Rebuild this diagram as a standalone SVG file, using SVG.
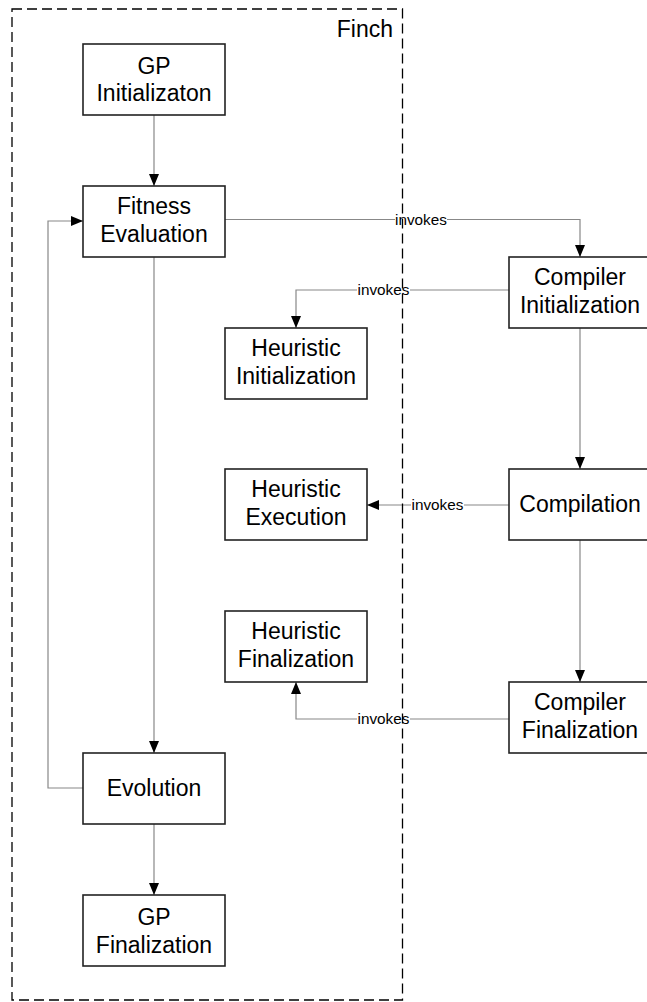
<svg xmlns="http://www.w3.org/2000/svg" width="647" height="1002" viewBox="0 0 647 1002">
<style>
.box{fill:#fff;stroke:#222;stroke-width:1.6}
.t{font-family:"Liberation Sans",Arial,sans-serif;font-size:23px;fill:#000;text-anchor:middle}
.lbl{font-family:"Liberation Sans",Arial,sans-serif;font-size:15.3px;fill:#000;text-anchor:middle}
.c{fill:none;stroke:#888;stroke-width:1.2}
.frame{fill:none;stroke:#000;stroke-width:1.3;stroke-dasharray:10,5}
</style>
<defs>
<marker id="ah" markerUnits="userSpaceOnUse" markerWidth="13" markerHeight="13" viewBox="0 0 13 13" refX="12" refY="6.5" orient="auto">
<path d="M0,1.5 L12,6.5 L0,11.5 Z" fill="#000"/>
</marker>
</defs>
<rect x="0" y="0" width="647" height="1002" fill="#fff"/>
<g id="connectors">
<path class="c" d="M154,115 V186" marker-end="url(#ah)"/>
<path class="c" d="M154,257 V753" marker-end="url(#ah)"/>
<path class="c" d="M154,824 V895" marker-end="url(#ah)"/>
<path class="c" d="M83,788 H48 V221 H83" marker-end="url(#ah)"/>
<path class="c" d="M225,219.5 H580 V257" marker-end="url(#ah)"/>
<path class="c" d="M509,290 H296 V328" marker-end="url(#ah)"/>
<path class="c" d="M580,328 V469" marker-end="url(#ah)"/>
<path class="c" d="M509,505 H367" marker-end="url(#ah)"/>
<path class="c" d="M580,540 V682" marker-end="url(#ah)"/>
<path class="c" d="M509,719 H296 V682" marker-end="url(#ah)"/>
<g id="labels">
<rect x="395" y="211" width="52" height="16" fill="#fff"/>
<text class="lbl" x="421" y="224.5">invokes</text>
<rect x="357" y="282" width="53" height="16" fill="#fff"/>
<text class="lbl" x="383.5" y="295">invokes</text>
<rect x="411" y="497" width="53" height="16" fill="#fff"/>
<text class="lbl" x="437.5" y="510">invokes</text>
<rect x="357" y="711" width="53" height="16" fill="#fff"/>
<text class="lbl" x="383.5" y="724">invokes</text>
</g>
</g>
<g id="gp-init"><rect class="box" x="83" y="44" width="142" height="71"/><text class="t" x="154" y="74">GP</text><text class="t" x="154" y="101">Initializaton</text></g>
<g id="fitness"><rect class="box" x="83" y="186" width="142" height="71"/><text class="t" x="154" y="214">Fitness</text><text class="t" x="154" y="242">Evaluation</text></g>
<g id="evolution"><rect class="box" x="83" y="753" width="142" height="71"/><text class="t" x="154" y="796">Evolution</text></g>
<g id="gp-final"><rect class="box" x="83" y="895" width="142" height="71"/><text class="t" x="154" y="925">GP</text><text class="t" x="154" y="953">Finalization</text></g>
<g id="heur-init"><rect class="box" x="225" y="328" width="142" height="71"/><text class="t" x="296" y="356">Heuristic</text><text class="t" x="296" y="384">Initialization</text></g>
<g id="heur-exec"><rect class="box" x="225" y="469" width="142" height="71"/><text class="t" x="296" y="497">Heuristic</text><text class="t" x="296" y="525">Execution</text></g>
<g id="heur-final"><rect class="box" x="225" y="611" width="142" height="71"/><text class="t" x="296" y="639">Heuristic</text><text class="t" x="296" y="667">Finalization</text></g>
<g id="comp-init"><rect class="box" x="509" y="257" width="142" height="71"/><text class="t" x="580" y="285">Compiler</text><text class="t" x="580" y="313">Initialization</text></g>
<g id="compilation"><rect class="box" x="509" y="469" width="142" height="71"/><text class="t" x="580" y="512">Compilation</text></g>
<g id="comp-final"><rect class="box" x="509" y="682" width="142" height="71"/><text class="t" x="580" y="710">Compiler</text><text class="t" x="580" y="738">Finalization</text></g>
<g id="finch">
<rect class="frame" x="12" y="9" width="390.5" height="991"/>
<text x="393" y="37" font-family="Liberation Sans, Arial, sans-serif" font-size="23" text-anchor="end">Finch</text>
</g>
</svg>
